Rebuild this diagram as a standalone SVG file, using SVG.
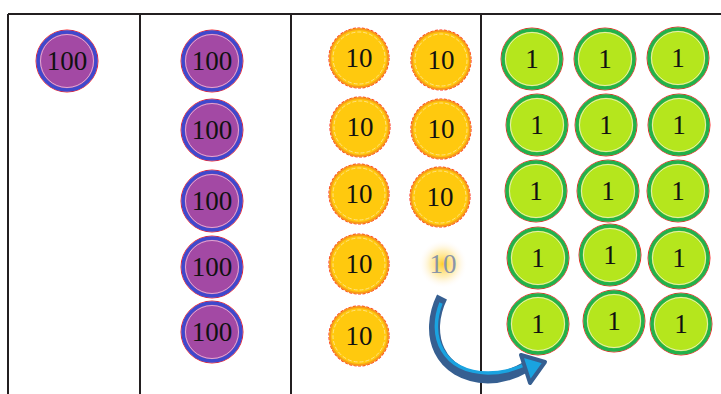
<svg xmlns="http://www.w3.org/2000/svg" width="721" height="394" viewBox="0 0 721 394">
<defs>
<style>
.grid{stroke:#231f20;stroke-width:2;fill:none}
.t{font-family:"Liberation Serif","Times New Roman",serif;font-size:27px;text-anchor:middle;dominant-baseline:central;fill:#111}
.pO{fill:none;stroke:#ff2020;stroke-width:1}
.pR{fill:#A349A4;stroke:#3F48CC;stroke-width:3.5}
.pI{fill:none;stroke:#f0c0e0;stroke-width:0.8}
.yO{fill:none;stroke:#ff3020;stroke-width:1.2;stroke-dasharray:3 1.5}
.yR{fill:#FFC90E;stroke:#F79A1A;stroke-width:2}
.yI{fill:none;stroke:#ffe9a0;stroke-width:0.8;stroke-dasharray:4 2}
.gO{fill:none;stroke:#ff2020;stroke-width:1}
.gR{fill:#B5E61D;stroke:#22B14C;stroke-width:3.5}
.gI{fill:none;stroke:#f0f0e0;stroke-width:0.8}
</style>
<radialGradient id="glow" cx="0.5" cy="0.5" r="0.5">
<stop offset="0" stop-color="#FFC90E" stop-opacity="0.9"/>
<stop offset="0.55" stop-color="#FFE07A" stop-opacity="0.5"/>
<stop offset="1" stop-color="#FFF5F5" stop-opacity="0"/>
</radialGradient>
<g id="p"><circle class="pO" r="31"/><circle class="pR" r="29"/><circle class="pI" r="26.5"/></g>
<g id="y"><circle class="yO" r="30"/><circle class="yR" r="29"/><circle class="yI" r="26"/></g>
<g id="gc"><circle class="gO" r="31"/><circle class="gR" r="29"/><circle class="gI" r="26.5"/></g>
</defs>
<rect width="721" height="394" fill="#fff"/>
<g id="grid">
<path class="grid" d="M8 14H721M8 14V394M140 14V394M291 14V394M481 14V394"/>
</g>
<g id="hundreds-1">
<g id="h0"><use href="#p" x="67" y="61"/><text class="t" x="67" y="61">100</text></g>
</g>
<g id="hundreds-2">
<g id="h1"><use href="#p" x="212" y="61"/><text class="t" x="212" y="61">100</text></g>
<g id="h2"><use href="#p" x="212" y="130"/><text class="t" x="212" y="130">100</text></g>
<g id="h3"><use href="#p" x="212" y="201"/><text class="t" x="212" y="201">100</text></g>
<g id="h4"><use href="#p" x="212" y="267"/><text class="t" x="212" y="267">100</text></g>
<g id="h5"><use href="#p" x="212" y="332"/><text class="t" x="212" y="332">100</text></g>
</g>
<g id="tens">
<g id="t1"><use href="#y" x="359" y="58"/><text class="t" x="359" y="58">10</text></g>
<g id="t2"><use href="#y" x="360" y="127"/><text class="t" x="360" y="127">10</text></g>
<g id="t3"><use href="#y" x="359" y="194"/><text class="t" x="359" y="194">10</text></g>
<g id="t4"><use href="#y" x="359" y="264"/><text class="t" x="359" y="264">10</text></g>
<g id="t5"><use href="#y" x="359" y="336"/><text class="t" x="359" y="336">10</text></g>
<g id="t6"><use href="#y" x="441" y="60"/><text class="t" x="441" y="60">10</text></g>
<g id="t7"><use href="#y" x="441" y="129"/><text class="t" x="441" y="129">10</text></g>
<g id="t8"><use href="#y" x="440" y="197"/><text class="t" x="440" y="197">10</text></g>
<g id="t9"><circle cx="443" cy="264" r="24" fill="url(#glow)"/><text class="t" x="443" y="264" style="fill:#8a95a8">10</text></g>
</g>
<g id="ones">
<g id="o1"><use href="#gc" x="532" y="59"/><text class="t" x="532" y="59">1</text></g>
<g id="o2"><use href="#gc" x="605" y="59"/><text class="t" x="605" y="59">1</text></g>
<g id="o3"><use href="#gc" x="678" y="58"/><text class="t" x="678" y="58">1</text></g>
<g id="o4"><use href="#gc" x="537" y="125"/><text class="t" x="537" y="125">1</text></g>
<g id="o5"><use href="#gc" x="606" y="125"/><text class="t" x="606" y="125">1</text></g>
<g id="o6"><use href="#gc" x="679" y="125"/><text class="t" x="679" y="125">1</text></g>
<g id="o7"><use href="#gc" x="536" y="191"/><text class="t" x="536" y="191">1</text></g>
<g id="o8"><use href="#gc" x="608" y="191"/><text class="t" x="608" y="191">1</text></g>
<g id="o9"><use href="#gc" x="678" y="191"/><text class="t" x="678" y="191">1</text></g>
<g id="o10"><use href="#gc" x="538" y="258"/><text class="t" x="538" y="258">1</text></g>
<g id="o11"><use href="#gc" x="610" y="255"/><text class="t" x="610" y="255">1</text></g>
<g id="o12"><use href="#gc" x="679" y="258"/><text class="t" x="679" y="258">1</text></g>
<g id="o13"><use href="#gc" x="538" y="324"/><text class="t" x="538" y="324">1</text></g>
<g id="o14"><use href="#gc" x="614" y="321"/><text class="t" x="614" y="321">1</text></g>
<g id="o15"><use href="#gc" x="681" y="324"/><text class="t" x="681" y="324">1</text></g>
</g>
<g id="connectors">
<path d="M442 297 C424 334 438 376 488 378 C503 378 514 374 526 367" fill="none" stroke="#365F91" stroke-width="11" stroke-linecap="butt"/>
<path d="M441 303 C428 336 442 372 488 373 C503 373 512 370 524 365" fill="none" stroke="#1AA3E0" stroke-width="3.5"/>
<path d="M545 362 L521 355 L530 383 Z" fill="#1AA3E0" stroke="#365F91" stroke-width="4" stroke-linejoin="round"/>
</g>
</svg>
